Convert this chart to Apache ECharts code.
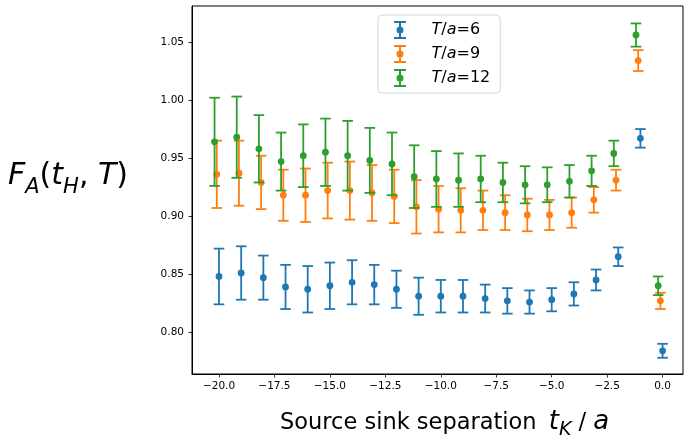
<!DOCTYPE html>
<html>
<head>
<meta charset="utf-8">
<script src="https://cdn.jsdelivr.net/npm/echarts@6/dist/echarts.min.js"></script>
<style>
  html, body { margin: 0; padding: 0; background: #fff; }
  #chart { width: 684px; height: 438px; }
</style>
</head>
<body>
<div id="chart"></div>
<script>
// source-sink separation t_K/a
const tK = [-20, -19, -18, -17, -16, -15, -14, -13, -12, -11, -10,
            -9, -8, -7, -6, -5, -4, -3, -2, -1, 0];

// T/a = 6
const f6 = [0.848, 0.851, 0.847, 0.839, 0.837, 0.840, 0.843, 0.841, 0.837, 0.831, 0.831,
            0.831, 0.829, 0.827, 0.826, 0.828, 0.833, 0.845, 0.865, 0.967, 0.784];
const e6 = [0.024, 0.023, 0.019, 0.019, 0.020, 0.020, 0.019, 0.017, 0.016, 0.016, 0.014,
            0.014, 0.012, 0.011, 0.010, 0.010, 0.010, 0.009, 0.008, 0.008, 0.006];

// T/a = 9
const f9 = [0.936, 0.937, 0.929, 0.918, 0.918, 0.922, 0.922, 0.920, 0.917, 0.908, 0.906,
            0.905, 0.905, 0.903, 0.901, 0.901, 0.903, 0.914, 0.931, 1.034, 0.827];
const e9 = [0.029, 0.028, 0.023, 0.022, 0.023, 0.024, 0.025, 0.024, 0.023, 0.023, 0.020,
            0.019, 0.017, 0.015, 0.014, 0.013, 0.013, 0.011, 0.009, 0.009, 0.007];

// T/a = 12
const f12 = [0.964, 0.968, 0.958, 0.947, 0.952, 0.955, 0.952, 0.948, 0.945, 0.934, 0.932,
             0.931, 0.932, 0.929, 0.927, 0.927, 0.930, 0.939, 0.954, 1.056, 0.840];
const e12 = [0.038, 0.035, 0.029, 0.025, 0.027, 0.029, 0.030, 0.028, 0.027, 0.027, 0.024,
             0.023, 0.020, 0.017, 0.016, 0.015, 0.014, 0.013, 0.011, 0.010, 0.008];

// points of each T are nudged sideways in the original
const shift = { T6: 0, T9: -0.1, T12: -0.2 };

const xTicks = [-20, -17.5, -15, -12.5, -10, -7.5, -5, -2.5, 0];
const yTicks = [0.80, 0.85, 0.90, 0.95, 1.00, 1.05];

const FONT = 'DejaVu Sans';
const ERR_ICON = 'path://M0 0h12v2H0zM0 16h12v2H0zM5 0h2v18H5zM2.5 9a3.5 3.5 0 1 1 7 0a3.5 3.5 0 1 1 -7 0z';

function errSeries(name, color, vals, errs, dx) {
  return {
    name: name,
    type: 'custom',
    itemStyle: { color: color },
    data: tK.map((t, i) => [t + dx, vals[i], errs[i]]),
    encode: { x: 0, y: 1 },
    renderItem: function (params, api) {
      const x = api.value(0), y = api.value(1), e = api.value(2);
      const top = api.coord([x, y + e]);
      const bot = api.coord([x, y - e]);
      const mid = api.coord([x, y]);
      const cap = 5.3;
      const ln = { stroke: color, lineWidth: 1.8 };
      return {
        type: 'group',
        children: [
          { type: 'line', shape: { x1: top[0], y1: top[1], x2: bot[0], y2: bot[1] }, style: ln },
          { type: 'line', shape: { x1: top[0] - cap, y1: top[1], x2: top[0] + cap, y2: top[1] }, style: ln },
          { type: 'line', shape: { x1: bot[0] - cap, y1: bot[1], x2: bot[0] + cap, y2: bot[1] }, style: ln },
          { type: 'circle', shape: { cx: mid[0], cy: mid[1], r: 3.4 }, style: { fill: color } }
        ]
      };
    }
  };
}

const chart = echarts.init(document.getElementById('chart'));

chart.setOption({
  animation: false,
  backgroundColor: '#fff',
  grid: {
    left: 192, right: 1, top: 6, bottom: 64,
    show: true, borderColor: '#000', borderWidth: 1
  },
  xAxis: {
    type: 'value',
    min: -21.217, max: 0.92,
    axisLine: { show: true, onZero: false, lineStyle: { color: '#000', width: 1 } },
    axisTick: { show: true, length: 3.5, customValues: xTicks, lineStyle: { color: '#000', width: 0.8 } },
    axisLabel: {
      customValues: xTicks, margin: 7, color: '#000', fontFamily: FONT, fontSize: 10.5,
      formatter: v => (v < 0 ? '\u2212' : '') + Math.abs(v).toFixed(1)
    },
    splitLine: { show: false }
  },
  yAxis: {
    type: 'value',
    min: 0.764, max: 1.081,
    axisLine: { show: true, onZero: false, lineStyle: { color: '#000', width: 1 } },
    axisTick: { show: true, length: 3.5, customValues: yTicks, lineStyle: { color: '#000', width: 0.8 } },
    axisLabel: {
      customValues: yTicks, margin: 8, color: '#000', fontFamily: FONT, fontSize: 10.5,
      formatter: v => v.toFixed(2)
    },
    splitLine: { show: false }
  },
  legend: {
    orient: 'vertical',
    left: 378, top: 15,
    padding: [6, 10, 6, 16],
    itemWidth: 13, itemHeight: 18, itemGap: 6,
    backgroundColor: 'rgba(255,255,255,0.8)',
    borderColor: '#d6d6d6', borderWidth: 1, borderRadius: 4,
    selectedMode: false,
    data: [
      { name: 'T/a=6', icon: ERR_ICON },
      { name: 'T/a=9', icon: ERR_ICON },
      { name: 'T/a=12', icon: ERR_ICON }
    ],
    formatter: n => n.replace('T/a', '{i|T}/{i|a}'),
    textStyle: {
      color: '#000', fontFamily: FONT, fontSize: 16, padding: [0, 0, 0, 20],
      rich: { i: { fontStyle: 'italic', fontFamily: FONT, fontSize: 16, color: '#000' } }
    }
  },
  graphic: [
    {
      type: 'text', left: 8, top: 161,
      style: {
        text: '{i|F}{s|A}{r|(}{i|t}{s|H}{r|, }{i|T}{r|)}',
        rich: {
          i: { fontFamily: FONT, fontStyle: 'italic', fontSize: 30, color: '#000', verticalAlign: 'bottom', padding: [0, 0, 7, 0] },
          r: { fontFamily: FONT, fontSize: 30, color: '#000', verticalAlign: 'bottom', padding: [0, 0, 7, 0] },
          s: { fontFamily: FONT, fontStyle: 'italic', fontSize: 21, color: '#000', verticalAlign: 'bottom' }
        }
      }
    },
    {
      type: 'text', left: 280, top: 409,
      style: {
        text: '{r|Source sink separation }{t|t}{s|K}{r| / }{i|a}',
        rich: {
          t: { fontFamily: FONT, fontStyle: 'italic', fontSize: 26, color: '#000', verticalAlign: 'bottom', padding: [0, 0, 6, 5] },
          i: { fontFamily: FONT, fontStyle: 'italic', fontSize: 26, color: '#000', verticalAlign: 'bottom', padding: [0, 0, 6, 0] },
          r: { fontFamily: FONT, fontSize: 22.5, color: '#000', verticalAlign: 'bottom', padding: [0, 0, 6, 0] },
          s: { fontFamily: FONT, fontStyle: 'italic', fontSize: 19, color: '#000', verticalAlign: 'bottom', padding: [0, 0, 1, 0] }
        }
      }
    }
  ],
  series: [
    errSeries('T/a=6', '#1f77b4', f6, e6, shift.T6),
    errSeries('T/a=9', '#ff7f0e', f9, e9, shift.T9),
    errSeries('T/a=12', '#2ca02c', f12, e12, shift.T12)
  ]
});
</script>
</body>
</html>
